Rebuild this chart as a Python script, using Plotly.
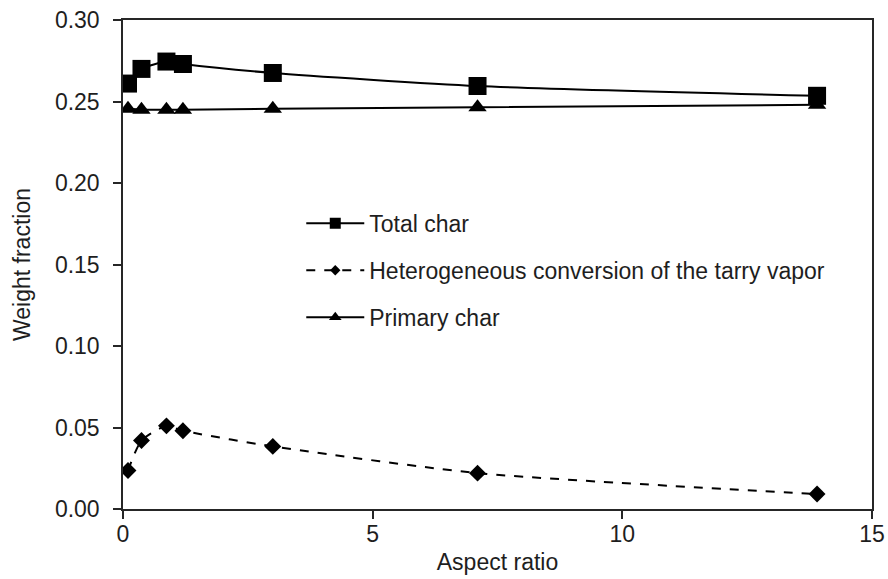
import plotly.graph_objects as go

# Aspect ratio of the particle
aspect_ratio = [0.1, 0.37, 0.87, 1.2, 3.0, 7.1, 13.9]

# Weight fractions for each char component
total_char = [0.261, 0.270, 0.2745, 0.273, 0.2675, 0.2595, 0.2535]
heterogeneous_conv = [0.0236, 0.042, 0.051, 0.048, 0.0384, 0.022, 0.0092]
primary_char = [0.2455, 0.2450, 0.2450, 0.2450, 0.2455, 0.2465, 0.2480]

series_names = ["Total char", "Heterogeneous conversion of the tarry vapor", "Primary char"]

font_family = "Liberation Sans, Arial, sans-serif"
text_color = "#1e1e1e"
fsize = 23

styles = [
    dict(y=total_char, dash="solid", symbol="square", size=18, legend_size=11),
    dict(y=heterogeneous_conv, dash="dash", symbol="diamond", size=13, legend_size=8),
    dict(y=primary_char, dash="solid", symbol="triangle-up", size=16, legend_size=11),
]

fig = go.Figure()

for name, st in zip(series_names, styles):
    # data trace
    fig.add_trace(go.Scatter(
        x=aspect_ratio, y=st["y"], name=name,
        mode="lines+markers",
        line=dict(color="black", width=2, dash=st["dash"], shape="spline", smoothing=0.6),
        marker=dict(symbol=st["symbol"], size=st["size"], color="black"),
        legendgroup=name, showlegend=False,
    ))
    # legend entry with smaller key marker
    fig.add_trace(go.Scatter(
        x=[None], y=[None], name=name,
        mode="lines+markers",
        line=dict(color="black", width=2, dash=st["dash"]),
        marker=dict(symbol=st["symbol"], size=st["legend_size"], color="black"),
        legendgroup=name, showlegend=True,
    ))

axis_common = dict(
    showgrid=False, zeroline=False, automargin=False,
    showline=True, linecolor="#262626", linewidth=1.5, mirror=True,
    ticks="outside", ticklen=8, tickcolor="#262626", tickwidth=1.5,
    tickfont=dict(family=font_family, size=fsize, color=text_color),
)

fig.update_xaxes(
    range=[0, 15], tickvals=[0, 5, 10, 15],
    ticklabelstandoff=-4,
    title=dict(text="Aspect ratio", font=dict(family=font_family, size=fsize, color=text_color), standoff=8),
    **axis_common,
)
fig.update_yaxes(
    range=[0, 0.30], tickvals=[0, 0.05, 0.10, 0.15, 0.20, 0.25, 0.30], tickformat=".2f",
    ticklabelstandoff=9,
    title=dict(text="Weight fraction", font=dict(family=font_family, size=fsize, color=text_color), standoff=18),
    **axis_common,
)

fig.update_layout(
    width=888, height=579,
    margin=dict(l=123, r=16, t=20, b=70),
    plot_bgcolor="white", paper_bgcolor="white",
    font=dict(family=font_family, size=fsize, color=text_color),
    legend=dict(
        x=0.238, y=0.628, xanchor="left", yanchor="top",
        bgcolor="rgba(0,0,0,0)", traceorder="grouped", tracegroupgap=14,
        font=dict(family=font_family, size=fsize, color=text_color),
        itemwidth=58,
    ),
    showlegend=True,
)

fig.write_html("out.html")
